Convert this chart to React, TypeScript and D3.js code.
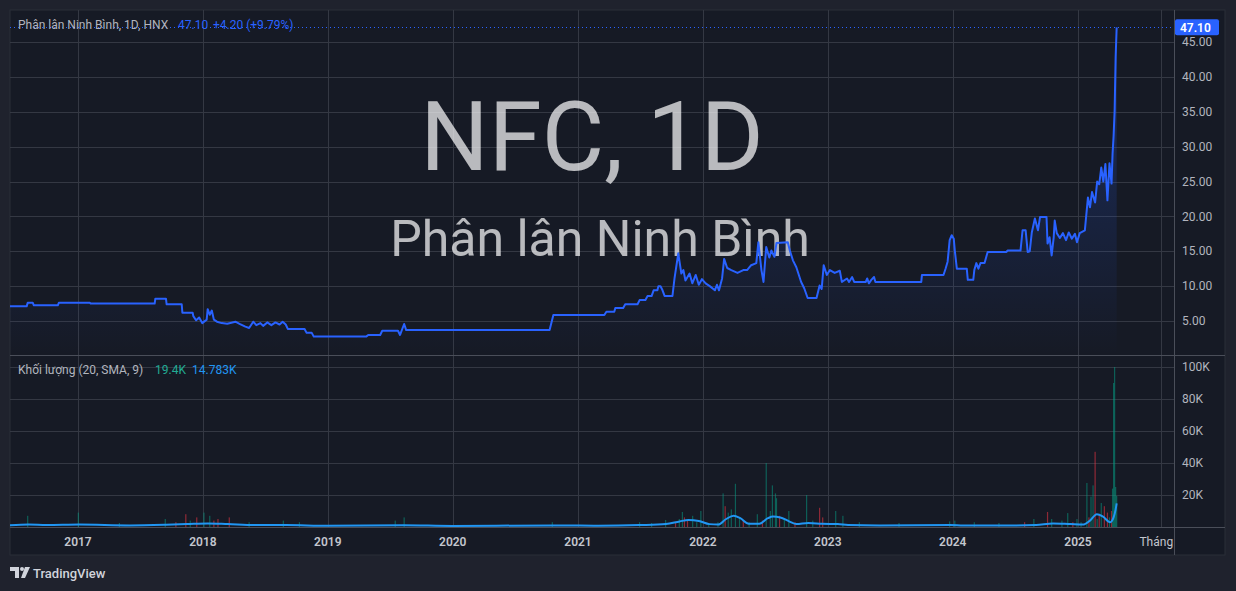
import React, { useEffect, useRef } from "react";
import * as d3 from "d3";

// daily close (VND thousand)
const priceSeries: [string, number][] = [
  ["2016-06-15", 7.1], ["2016-08-04", 7.1], ["2016-08-07", 7.6], ["2016-08-22", 7.6],
  ["2016-08-25", 7.25], ["2016-11-03", 7.25], ["2016-11-06", 7.6], ["2017-02-05", 7.6],
  ["2017-02-07", 7.5], ["2017-08-13", 7.5], ["2017-08-15", 8.2], ["2017-09-15", 8.2],
  ["2017-09-17", 7.4], ["2017-10-31", 7.4], ["2017-11-02", 6.2], ["2017-12-02", 6.2],
  ["2017-12-04", 5.7], ["2017-12-12", 5.1], ["2017-12-21", 5.5], ["2017-12-30", 4.7],
  ["2018-01-12", 5.2], ["2018-01-15", 6.7], ["2018-01-21", 5.9], ["2018-01-27", 6.5],
  ["2018-02-02", 5.2], ["2018-02-11", 4.9], ["2018-02-25", 4.7], ["2018-03-13", 4.6],
  ["2018-04-06", 4.9], ["2018-04-18", 4.6], ["2018-05-05", 4.2], ["2018-05-16", 4.0],
  ["2018-05-28", 4.9], ["2018-06-06", 4.4], ["2018-06-18", 4.7], ["2018-06-26", 4.3],
  ["2018-07-08", 4.8], ["2018-07-20", 4.4], ["2018-08-01", 4.8], ["2018-08-13", 4.5],
  ["2018-08-22", 4.9], ["2018-08-31", 4.5], ["2018-09-06", 3.86], ["2018-10-25", 3.86],
  ["2018-10-31", 3.3], ["2018-11-15", 3.3], ["2018-11-21", 2.76], ["2019-04-23", 2.76],
  ["2019-04-29", 3.0], ["2019-06-03", 3.0], ["2019-06-09", 3.6], ["2019-07-25", 3.6],
  ["2019-07-31", 3.0], ["2019-08-12", 4.57], ["2019-08-18", 3.7], ["2020-10-10", 3.7],
  ["2020-10-21", 5.86], ["2021-03-19", 5.86], ["2021-03-25", 6.33], ["2021-04-17", 6.33],
  ["2021-04-20", 6.86], ["2021-05-13", 6.86], ["2021-05-19", 7.4], ["2021-06-24", 7.4],
  ["2021-06-30", 8.0], ["2021-07-17", 8.0], ["2021-07-23", 8.57], ["2021-08-04", 8.57],
  ["2021-08-10", 9.4], ["2021-08-21", 9.4], ["2021-08-24", 10.0], ["2021-08-30", 10.0],
  ["2021-09-05", 9.4], ["2021-09-11", 8.6], ["2021-10-04", 8.6], ["2021-10-10", 11.1],
  ["2021-10-21", 14.7], ["2021-10-30", 11.8], ["2021-11-05", 12.3], ["2021-11-11", 10.8],
  ["2021-11-23", 11.8], ["2021-12-01", 10.4], ["2021-12-11", 11.6], ["2021-12-20", 10.2],
  ["2021-12-29", 11.0], ["2022-01-09", 10.4], ["2022-01-21", 10.0], ["2022-02-05", 9.4],
  ["2022-02-11", 10.2], ["2022-02-17", 9.4], ["2022-02-26", 11.1], ["2022-03-04", 13.9],
  ["2022-03-13", 12.6], ["2022-03-25", 12.3], ["2022-04-12", 11.9], ["2022-04-29", 12.3],
  ["2022-05-10", 12.3], ["2022-05-22", 13.0], ["2022-06-06", 13.3], ["2022-06-12", 16.3],
  ["2022-06-21", 12.3], ["2022-06-27", 10.6], ["2022-07-05", 15.6], ["2022-07-14", 14.1],
  ["2022-07-20", 15.1], ["2022-07-29", 14.2], ["2022-08-04", 16.2], ["2022-09-06", 16.3],
  ["2022-09-12", 15.1], ["2022-09-21", 13.7], ["2022-10-01", 12.7], ["2022-10-15", 10.6],
  ["2022-10-24", 9.7], ["2022-11-03", 8.3], ["2022-11-29", 8.3], ["2022-12-08", 10.1],
  ["2022-12-14", 9.6], ["2022-12-20", 13.0], ["2022-12-29", 11.6], ["2023-01-07", 12.3],
  ["2023-01-21", 11.9], ["2023-02-05", 12.2], ["2023-02-11", 10.6], ["2023-02-26", 11.1],
  ["2023-03-04", 10.6], ["2023-03-13", 11.3], ["2023-03-19", 10.6], ["2023-04-22", 10.6],
  ["2023-04-26", 11.1], ["2023-05-01", 10.4], ["2023-05-08", 10.9], ["2023-05-16", 11.3],
  ["2023-05-20", 10.6], ["2023-10-01", 10.6], ["2023-10-03", 11.6], ["2023-12-05", 11.6],
  ["2023-12-11", 12.5], ["2023-12-17", 13.5], ["2023-12-23", 16.6], ["2023-12-29", 17.3],
  ["2024-01-04", 16.8], ["2024-01-07", 15.1], ["2024-01-13", 12.5], ["2024-02-11", 12.5],
  ["2024-02-14", 10.9], ["2024-03-01", 10.9], ["2024-03-04", 12.3], ["2024-03-10", 13.3],
  ["2024-03-16", 12.5], ["2024-03-22", 13.3], ["2024-04-03", 13.3], ["2024-04-12", 14.9],
  ["2024-06-06", 14.9], ["2024-06-09", 15.1], ["2024-07-17", 15.1], ["2024-07-23", 18.0],
  ["2024-08-01", 18.0], ["2024-08-07", 14.9], ["2024-08-13", 15.0], ["2024-08-19", 17.7],
  ["2024-08-28", 19.7], ["2024-09-06", 18.0], ["2024-09-12", 19.9], ["2024-10-01", 19.9],
  ["2024-10-04", 16.1], ["2024-10-10", 17.0], ["2024-10-16", 14.4], ["2024-10-22", 17.0],
  ["2024-10-25", 19.4], ["2024-10-31", 17.6], ["2024-11-09", 16.9], ["2024-11-18", 17.6],
  ["2024-11-27", 16.6], ["2024-12-05", 17.7], ["2024-12-14", 16.8], ["2024-12-23", 17.5],
  ["2024-12-29", 16.3], ["2025-01-06", 17.6], ["2025-01-21", 18.0], ["2025-01-30", 22.7],
  ["2025-02-05", 21.3], ["2025-02-11", 23.5], ["2025-02-20", 22.0], ["2025-02-26", 25.0],
  ["2025-03-04", 24.6], ["2025-03-10", 27.0], ["2025-03-16", 25.0], ["2025-03-22", 27.5],
  ["2025-03-28", 22.3], ["2025-04-03", 27.6], ["2025-04-09", 24.7], ["2025-04-12", 29.0],
  ["2025-04-15", 31.5], ["2025-04-18", 35.1], ["2025-04-21", 42.9], ["2025-04-24", 47.1],
];

// notable volume bars: date, volume (K), 1 = up day, -1 = down day
const volumeBars: [string, number, number][] = [
  ["2016-08-07", 7, 1], ["2017-01-02", 9, 1], ["2017-05-02", 2.5, 1], ["2017-09-13", 5, 1],
  ["2017-10-14", 3, -1], ["2017-11-12", 8, -1], ["2017-11-25", 4, 1], ["2017-12-14", 6, -1],
  ["2018-01-04", 9, 1], ["2018-01-21", 7, 1], ["2018-02-02", 4, -1], ["2018-02-14", 5, -1],
  ["2018-03-19", 6, -1], ["2018-05-16", 3, 1], ["2018-08-24", 4, 1], ["2018-10-10", 3, 1],
  ["2019-07-17", 4, 1], ["2019-08-12", 6, 1], ["2020-10-18", 3, 1], ["2021-06-30", 3, 1],
  ["2021-08-04", 2.5, 1], ["2021-09-14", 4.4, 1], ["2021-10-13", 3, -1], ["2021-10-24", 5, 1],
  ["2021-11-02", 9.4, 1], ["2021-11-08", 6, -1], ["2021-11-17", 4, -1], ["2021-12-02", 7, 1],
  ["2021-12-14", 3, 1], ["2021-12-26", 10, 1], ["2022-01-18", 2.5, 1], ["2022-02-14", 3, 1],
  ["2022-03-01", 21, 1], ["2022-03-07", 13, -1], ["2022-03-16", 9, 1], ["2022-03-25", 11, 1],
  ["2022-04-06", 27, 1], ["2022-04-18", 6, 1], ["2022-04-29", 4, -1], ["2022-05-16", 3, 1],
  ["2022-06-09", 8, 1], ["2022-06-24", 4, -1], ["2022-07-05", 40, 1], ["2022-07-17", 10, 1],
  ["2022-07-23", 26, 1], ["2022-08-01", 21, 1], ["2022-08-04", 18, 1], ["2022-08-13", 7, -1],
  ["2022-08-27", 5, 1], ["2022-09-09", 10, 1], ["2022-09-27", 3, -1], ["2022-10-31", 20, 1],
  ["2022-11-18", 4, 1], ["2022-12-08", 12, -1], ["2022-12-17", 6, -1], ["2023-01-24", 10, 1],
  ["2023-02-14", 7, 1], ["2023-04-03", 3, 1], ["2023-07-28", 2.5, 1], ["2023-12-23", 3.5, 1],
  ["2024-01-07", 4, 1], ["2024-03-04", 3, 1], ["2024-05-15", 2.5, 1], ["2024-07-29", 3, -1],
  ["2024-08-25", 5, 1], ["2024-10-04", 9.4, -1], ["2024-10-16", 5, 1], ["2024-11-15", 4, 1],
  ["2024-12-02", 8.7, 1], ["2024-12-17", 3, -1], ["2024-12-29", 5, 1], ["2025-01-10", 3, 1],
  ["2025-01-27", 27.5, 1], ["2025-02-02", 6, -1], ["2025-02-08", 19, 1], ["2025-02-14", 26, 1],
  ["2025-02-20", 47, -1], ["2025-02-26", 5, 1], ["2025-03-04", 8, -1], ["2025-03-10", 15, 1],
  ["2025-03-19", 13, -1], ["2025-03-28", 9, -1], ["2025-04-03", 6, 1], ["2025-04-09", 10, -1],
  ["2025-04-12", 24, 1], ["2025-04-15", 90, 1], ["2025-04-18", 100, 1], ["2025-04-21", 25, 1],
  ["2025-04-24", 19.4, 1],
];

// 20-day SMA of volume (K)
const volumeMa: [string, number][] = [
  ["2016-06-15", 1.0], ["2016-08-10", 1.6], ["2016-10-01", 1.2], ["2017-01-05", 1.5],
  ["2017-06-01", 1.0], ["2017-09-15", 1.4], ["2017-11-15", 1.8], ["2018-01-15", 2.2],
  ["2018-03-15", 1.8], ["2018-06-01", 1.2], ["2018-09-01", 1.2], ["2019-01-01", 0.8],
  ["2019-08-10", 1.1], ["2020-01-01", 0.7], ["2020-10-20", 1.0], ["2021-03-01", 0.8],
  ["2021-07-01", 1.2], ["2021-09-15", 1.8], ["2021-10-25", 3.5], ["2021-11-20", 4.4],
  ["2021-12-20", 3.8], ["2022-01-20", 1.8], ["2022-02-15", 1.5], ["2022-03-10", 5.0],
  ["2022-04-01", 7.0], ["2022-04-20", 5.5], ["2022-05-15", 2.0], ["2022-06-15", 2.0],
  ["2022-07-10", 5.5], ["2022-07-25", 6.5], ["2022-08-15", 6.0], ["2022-09-10", 3.5],
  ["2022-10-01", 1.8], ["2022-11-05", 2.5], ["2022-12-15", 2.0], ["2023-01-30", 1.8],
  ["2023-03-01", 1.2], ["2023-06-01", 0.9], ["2023-12-25", 1.3], ["2024-02-01", 1.0],
  ["2024-06-01", 0.9], ["2024-09-01", 1.3], ["2024-10-20", 2.2], ["2024-12-10", 1.8],
  ["2025-01-15", 1.5], ["2025-02-05", 4.0], ["2025-02-25", 8.0], ["2025-03-15", 6.5],
  ["2025-04-05", 3.0], ["2025-04-15", 6.0], ["2025-04-21", 11.0], ["2025-04-24", 14.8],
];

const priceTicks = [5, 10, 15, 20, 25, 30, 35, 40, 45];
const volumeTicks = [20, 40, 60, 80, 100];
const yearTicks = ["2017", "2018", "2019", "2020", "2021", "2022", "2023", "2024", "2025"];
const monthTicks: [string, string][] = [["2025-09-01", "Tháng 9"]];

const W = 1236;
const H = 591;
const FONT = "Roboto, 'Open Sans', sans-serif";
const BLUE = "#2962ff";

export default function App() {
  const ref = useRef<SVGSVGElement>(null);

  useEffect(() => {
    const parse = d3.timeParse("%Y-%m-%d");
    const prices = priceSeries.map(([d, v]) => ({ date: parse(d)!, value: v }));
    const vols = volumeBars.map(([d, v, s]) => ({ date: parse(d)!, value: v, up: s > 0 }));
    const ma = volumeMa.map(([d, v]) => ({ date: parse(d)!, value: v }));

    const left = 10, right = 1174, axisRight = 1225;
    const top = 10, priceBottom = 355, volTop = 356, volBottom = 527, timeBottom = 555;

    const x = d3.scaleTime()
      .domain([new Date(2017, 0, 1), new Date(2025, 0, 1)])
      .range([78, 1078]);
    const y = d3.scaleLinear().domain([5, 45]).range([321, 42]);
    const yv = d3.scaleLinear().domain([0, 100]).range([volBottom, 367]);

    const svg = d3.select(ref.current);
    svg.selectAll("*").remove();
    svg.attr("width", W).attr("height", H).style("font-family", FONT);

    const defs = svg.append("defs");
    const grad = defs.append("linearGradient").attr("id", "areaGrad")
      .attr("gradientUnits", "userSpaceOnUse")
      .attr("x1", 0).attr("x2", 0).attr("y1", y(47.1)).attr("y2", priceBottom);
    grad.append("stop").attr("offset", 0).attr("stop-color", BLUE).attr("stop-opacity", 0.28);
    grad.append("stop").attr("offset", 1).attr("stop-color", BLUE).attr("stop-opacity", 0);
    defs.append("clipPath").attr("id", "clipPrice").append("rect")
      .attr("x", left).attr("y", top).attr("width", right - left).attr("height", priceBottom - top);
    defs.append("clipPath").attr("id", "clipVol").append("rect")
      .attr("x", left).attr("y", volTop).attr("width", right - left).attr("height", volBottom - volTop);
    defs.append("clipPath").attr("id", "clipTime").append("rect")
      .attr("x", left).attr("y", volBottom).attr("width", right - left).attr("height", timeBottom - volBottom);

    svg.append("rect").attr("width", W).attr("height", H).attr("fill", "#1f222d");
    svg.append("rect").attr("x", left).attr("y", top)
      .attr("width", axisRight - left).attr("height", timeBottom - top)
      .attr("fill", "#161a25").attr("stroke", "#2a2e39");

    // grid
    const grid = svg.append("g").attr("stroke", "#343843").attr("stroke-width", 1);
    const vx = [
      ...yearTicks.map((t) => x(new Date(+t, 0, 1))),
      ...monthTicks.map(([d]) => x(parse(d)!)),
    ];
    vx.forEach((px) => {
      grid.append("line").attr("x1", Math.round(px) + 0.5).attr("x2", Math.round(px) + 0.5)
        .attr("y1", top).attr("y2", volBottom);
    });
    priceTicks.forEach((t) => {
      grid.append("line").attr("x1", left).attr("x2", right)
        .attr("y1", Math.round(y(t)) + 0.5).attr("y2", Math.round(y(t)) + 0.5);
    });
    volumeTicks.forEach((t) => {
      grid.append("line").attr("x1", left).attr("x2", right)
        .attr("y1", Math.round(yv(t)) + 0.5).attr("y2", Math.round(yv(t)) + 0.5);
    });

    // watermark
    const wm = svg.append("g").attr("fill", "rgba(255,255,255,0.7)").attr("text-anchor", "middle");
    wm.append("text").attr("x", 592).attr("y", 170).attr("font-size", 96).text("NFC, 1D");
    wm.append("text").attr("x", 600).attr("y", 256).attr("font-size", 50).text("Phân lân Ninh Bình");

    // price area + line
    const pg = svg.append("g").attr("clip-path", "url(#clipPrice)");
    pg.append("path").datum(prices)
      .attr("fill", "url(#areaGrad)")
      .attr("d", d3.area<any>().x((d) => x(d.date)).y0(priceBottom).y1((d) => y(d.value)));
    pg.append("path").datum(prices)
      .attr("fill", "none").attr("stroke", BLUE).attr("stroke-width", 2)
      .attr("stroke-linejoin", "round")
      .attr("d", d3.line<any>().x((d) => x(d.date)).y((d) => y(d.value)));
    const last = prices[prices.length - 1];
    pg.append("line").attr("x1", left).attr("x2", right)
      .attr("y1", Math.round(y(last.value)) + 0.5).attr("y2", Math.round(y(last.value)) + 0.5)
      .attr("stroke", BLUE).attr("stroke-dasharray", "1,3");

    // volume
    const vg = svg.append("g").attr("clip-path", "url(#clipVol)");
    vg.selectAll("rect").data(vols).join("rect")
      .attr("x", (d) => x(d.date) - 0.6).attr("width", 1.2)
      .attr("y", (d) => yv(d.value)).attr("height", (d) => volBottom - yv(d.value))
      .attr("fill", (d) => (d.up ? "rgba(8,153,129,0.55)" : "rgba(242,54,69,0.55)"));
    vg.append("path").datum(ma)
      .attr("fill", "none").attr("stroke", "#2196f3").attr("stroke-width", 2)
      .attr("d", d3.line<any>().x((d) => x(d.date)).y((d) => yv(d.value)).curve(d3.curveMonotoneX));

    // separators
    const sep = svg.append("g").attr("stroke", "#4a4e59");
    sep.append("line").attr("x1", left).attr("x2", axisRight).attr("y1", 355.5).attr("y2", 355.5);
    sep.append("line").attr("x1", left).attr("x2", axisRight).attr("y1", volBottom + 0.5).attr("y2", volBottom + 0.5);
    sep.append("line").attr("x1", right + 0.5).attr("x2", right + 0.5).attr("y1", top).attr("y2", timeBottom);

    // price axis
    const ax = svg.append("g").attr("font-size", 12).attr("fill", "#b2b5be");
    priceTicks.forEach((t) => {
      ax.append("text").attr("x", 1182).attr("y", y(t)).attr("dy", "0.35em").text(t.toFixed(2));
    });
    volumeTicks.forEach((t) => {
      ax.append("text").attr("x", 1182).attr("y", yv(t)).attr("dy", "0.35em").text(`${t}K`);
    });
    svg.append("rect").attr("x", right + 1).attr("y", y(last.value) - 8)
      .attr("width", 44).attr("height", 16).attr("rx", 2).attr("fill", BLUE);
    svg.append("text").attr("x", 1180).attr("y", y(last.value)).attr("dy", "0.35em")
      .attr("font-size", 12).attr("font-weight", 600).attr("fill", "#ffffff")
      .text(last.value.toFixed(2));

    // time axis
    const tg = svg.append("g").attr("clip-path", "url(#clipTime)")
      .attr("font-size", 12).attr("fill", "#c3c6ce").attr("text-anchor", "middle");
    yearTicks.forEach((t) => {
      tg.append("text").attr("x", x(new Date(+t, 0, 1))).attr("y", 542).attr("dy", "0.35em")
        .attr("font-weight", 600).text(t);
    });
    monthTicks.forEach(([d, label]) => {
      tg.append("text").attr("x", x(parse(d)!)).attr("y", 542).attr("dy", "0.35em").text(label);
    });

    // legends
    const lg = svg.append("g").attr("font-size", 12);
    lg.append("text").attr("x", 18).attr("y", 25).attr("dy", "0.35em").attr("fill", "#b2b5be")
      .text("Phân lân Ninh Bình, 1D, HNX");
    lg.append("text").attr("x", 178).attr("y", 25).attr("dy", "0.35em").attr("fill", BLUE).text("47.10");
    lg.append("text").attr("x", 213).attr("y", 25).attr("dy", "0.35em").attr("fill", BLUE).text("+4.20 (+9.79%)");
    lg.append("text").attr("x", 18).attr("y", 370).attr("dy", "0.35em").attr("fill", "#b2b5be")
      .text("Khối lượng (20, SMA, 9)");
    lg.append("text").attr("x", 155).attr("y", 370).attr("dy", "0.35em").attr("fill", "#22ab94").text("19.4K");
    lg.append("text").attr("x", 192).attr("y", 370).attr("dy", "0.35em").attr("fill", "#2196f3").text("14.783K");

    // tradingview mark
    const logo = svg.append("g").attr("fill", "#d1d4dc");
    logo.append("path").attr("d", "M10 567 H19 V578 H15 V571 H10 Z");
    logo.append("circle").attr("cx", 22).attr("cy", 569).attr("r", 2);
    logo.append("path").attr("d", "M25 567 H30 L25 578 H21 Z");
    logo.append("text").attr("x", 33).attr("y", 573).attr("dy", "0.35em")
      .attr("font-size", 13).attr("font-weight", 500).text("TradingView");
  }, []);

  return (
    <div style={{ position: "fixed", left: 0, top: 0 }}>
      <svg ref={ref}></svg>
    </div>
  );
}
